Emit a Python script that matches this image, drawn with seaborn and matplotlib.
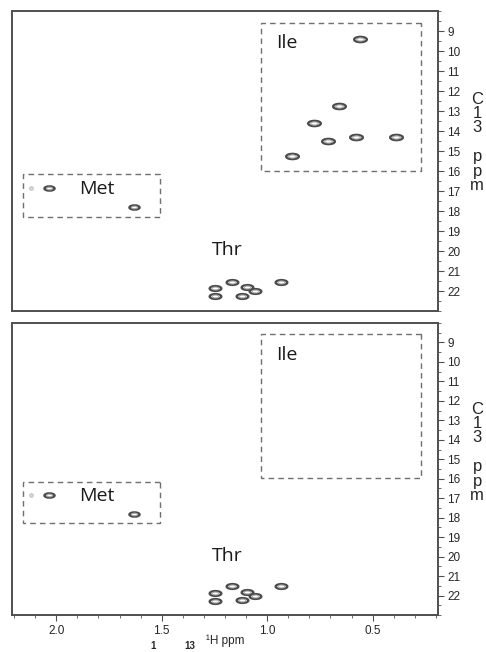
import numpy as np
import pandas as pd
import matplotlib
matplotlib.use("Agg")
import matplotlib.pyplot as plt
import matplotlib.path as mpath
from matplotlib.patches import Rectangle
from matplotlib.ticker import MultipleLocator
import seaborn as sns

# peak positions (1H ppm, 13C ppm)
ile_h = [0.56, 0.66, 0.78, 0.58, 0.39, 0.71, 0.88]
ile_c = [9.40, 12.75, 13.60, 14.28, 14.30, 14.52, 15.23]
met_h = [2.035, 1.632]
met_c = [16.85, 17.82]
met_weak_h = [2.12]
met_weak_c = [16.83]
thr_h = [1.249, 1.249, 1.167, 1.118, 1.094, 1.058, 0.936]
thr_c = [21.85, 22.27, 21.53, 22.23, 21.82, 22.00, 21.53]

# dashed selection boxes: (h_left, h_right, c_top, c_bottom)
ile_box = [1.03, 0.27, 8.58, 15.98]
met_box = [2.16, 1.51, 16.15, 18.28]

# residue labels
label_names = ["Ile", "Met", "Thr"]
label_h = [0.905, 1.81, 1.19]
label_c = [9.62, 16.88, 19.95]

x_range = (2.21, 0.19)
y_range = (8.0, 23.0)

peaks = pd.concat([
    pd.DataFrame({"h": ile_h, "c": ile_c, "res": "Ile"}),
    pd.DataFrame({"h": met_h, "c": met_c, "res": "Met"}),
    pd.DataFrame({"h": thr_h, "c": thr_c, "res": "Thr"}),
], ignore_index=True)
weak = pd.DataFrame({"h": met_weak_h, "c": met_weak_c})

sns.set_style("white")
plt.rcParams["font.family"] = ["Liberation Sans", "DejaVu Sans"]

# flat ellipse marker for the contour peaks
circ = mpath.Path.unit_circle()
ellipse = mpath.Path(circ.vertices * np.array([1.0, 0.42]), circ.codes)

spine_col = "#4f4f4f"
fig = plt.figure(figsize=(4.86, 6.52), dpi=100)
ax_top = fig.add_axes([12 / 486, 1 - 311 / 652, 426 / 486, 300 / 652])
ax_bot = fig.add_axes([12 / 486, 1 - 615 / 652, 426 / 486, 292 / 652])

size_by_res = {"Ile": 85, "Met": 55, "Thr": 72}


def draw_panel(ax, data, show_ile_peaks, label_y):
    for res, grp in data.groupby("res"):
        if res == "Ile" and not show_ile_peaks:
            continue
        s = size_by_res[res]
        sns.scatterplot(data=grp, x="h", y="c", ax=ax, marker=ellipse, s=s,
                        color="white", edgecolor="#4a4a4a", linewidth=1.6,
                        legend=False, zorder=3)
        sns.scatterplot(data=grp, x="h", y="c", ax=ax, marker=ellipse, s=s * 0.35,
                        color="white", edgecolor="#a5a5a5", linewidth=0.8,
                        legend=False, zorder=4)
    sns.scatterplot(data=weak, x="h", y="c", ax=ax, marker="o", s=8,
                    color="#d4d4d4", edgecolor="#c0c0c0", linewidth=0.5,
                    legend=False, zorder=3)

    for box in (ile_box, met_box):
        ax.add_patch(Rectangle((box[1], box[2]), box[0] - box[1], box[3] - box[2],
                               fill=False, ls=(0, (4, 3)), lw=1.0,
                               edgecolor="#6f6f6f", zorder=2))
    for name, h, c in zip(label_names, label_h, label_c):
        ax.text(h, c, name, ha="center", va="center", fontsize=14,
                family=["Open Sans", "DejaVu Sans"], color="#1a1a1a")

    ax.set_xlim(*x_range)
    ax.set_ylim(y_range[1], y_range[0])
    ax.yaxis.set_minor_locator(MultipleLocator(0.5))
    ax.xaxis.set_minor_locator(MultipleLocator(0.1))
    ax.set_yticks(range(9, 23))
    ax.tick_params(axis="y", which="both", left=False, right=True,
                   labelleft=False, labelright=True, direction="out",
                   color=spine_col, labelsize=8.5, pad=2.5)
    ax.tick_params(axis="y", which="major", length=4)
    ax.tick_params(axis="y", which="minor", length=2)
    for sp in ax.spines.values():
        sp.set_visible(True)
        sp.set_color(spine_col)
        sp.set_linewidth(1.4)
    ax.set_xlabel("")
    ax.yaxis.set_label_position("right")
    ax.set_ylabel("C\n1\n3\n\np\np\nm", rotation=0, fontsize=12,
                  va="center", ha="center", linespacing=0.95)
    ax.yaxis.set_label_coords(1.092, label_y)


draw_panel(ax_top, peaks, True, 0.562)
draw_panel(ax_bot, peaks, False, 0.557)

ax_top.tick_params(axis="x", which="both", bottom=False, labelbottom=False)
ax_bot.tick_params(axis="x", which="both", bottom=True, labelbottom=True,
                   direction="out", color=spine_col, labelsize=8.5, pad=3)
ax_bot.tick_params(axis="x", which="major", length=4)
ax_bot.tick_params(axis="x", which="minor", length=2)
ax_bot.set_xticks([2.0, 1.5, 1.0, 0.5])
ax_bot.set_xticklabels(["2.0", "1.5", "1.0", "0.5"])
ax_bot.set_xlabel("\u00b9H ppm", fontsize=8.5)
ax_bot.xaxis.set_label_coords(0.5, -0.068)

# caption superscripts at the bottom edge
fig.text(153 / 486, 1 - 641 / 652, "1", fontsize=7, fontweight="bold",
         ha="center", va="top")
fig.text(190 / 486, 1 - 641 / 652, "13", fontsize=7, fontweight="bold",
         ha="center", va="top")

fig.savefig("out.png", dpi=100)
